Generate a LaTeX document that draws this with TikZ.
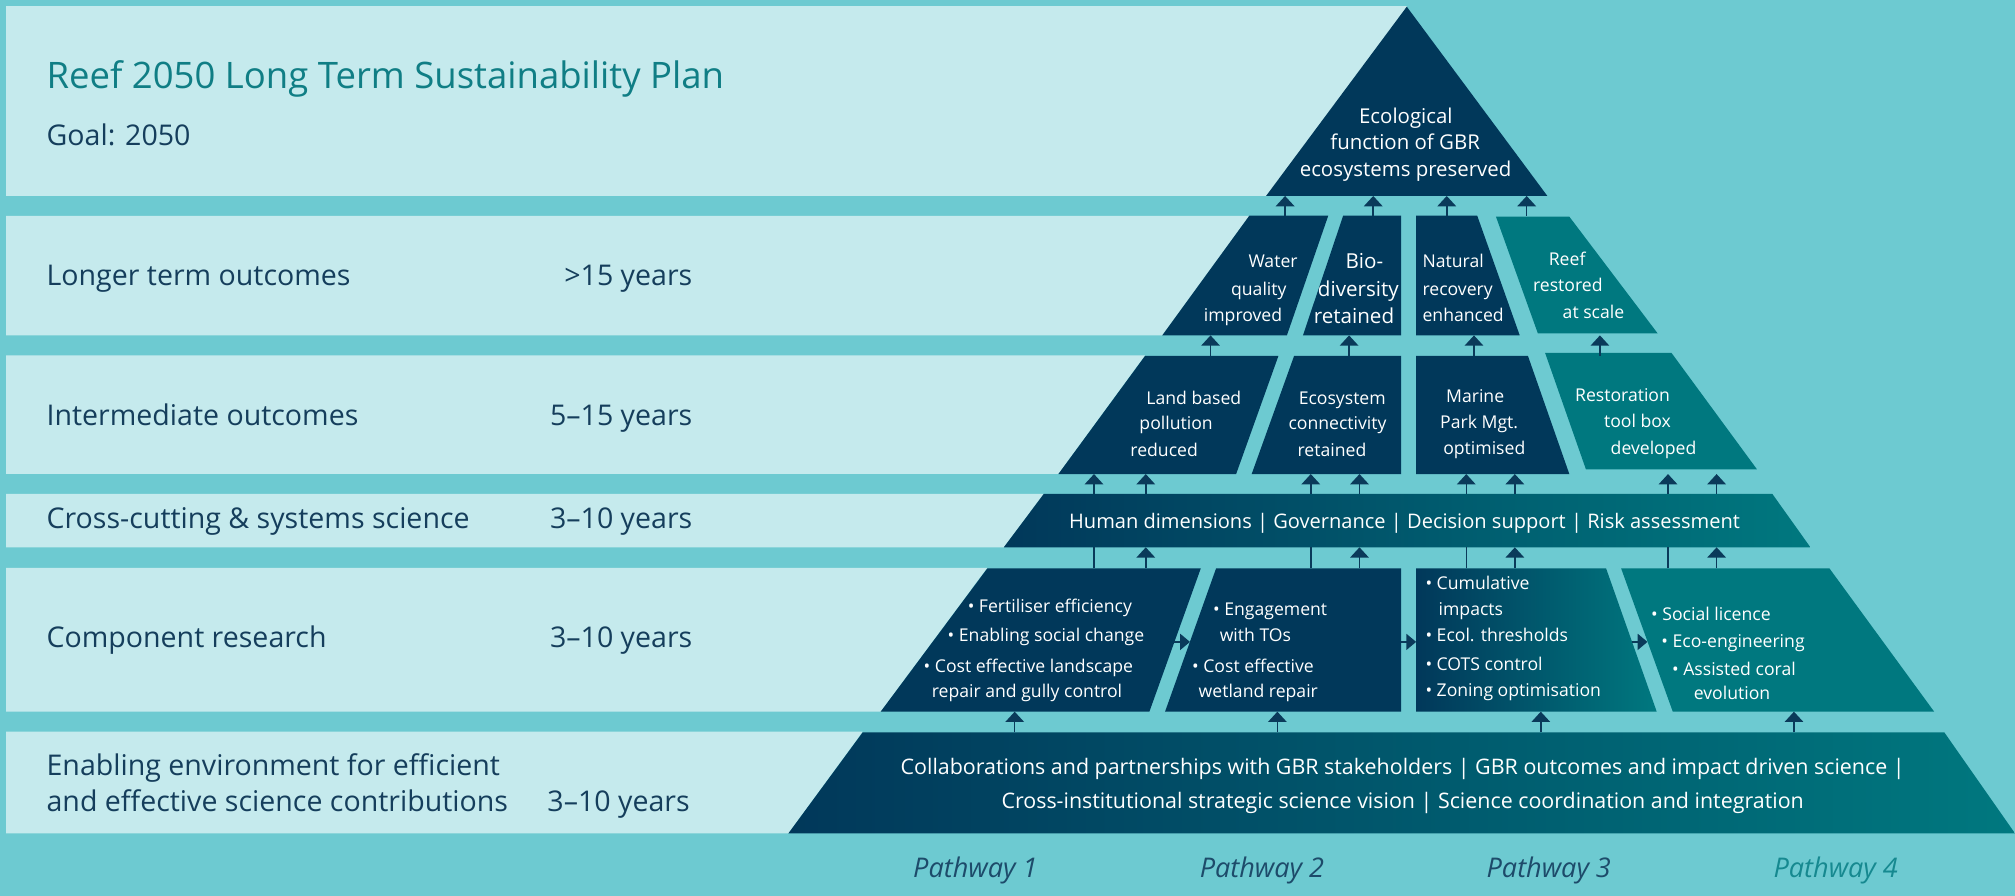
\documentclass[tikz,border=0pt]{standalone}
\usepackage{fontspec}
\setmainfont{Open Sans}
\usetikzlibrary{arrows.meta}
\definecolor{bgc}{HTML}{6DCAD1}
\definecolor{bandc}{HTML}{C5EAED}
\definecolor{navyc}{HTML}{01385A}
\definecolor{tealc}{HTML}{00787F}
\definecolor{titlec}{HTML}{107E85}
\definecolor{labc}{HTML}{153E5C}
\definecolor{arrc}{HTML}{0A3A5A}
\definecolor{pathc}{HTML}{1D4B6A}
\definecolor{pathfc}{HTML}{168990}
\newcommand\fTitle{\fontsize{20.2pt}{24pt}\selectfont}
\newcommand\fLab{\fontsize{15.8pt}{19pt}\selectfont}
\newcommand\fApex{\fontsize{11.3pt}{14pt}\selectfont}
\newcommand\fBox{\fontsize{9.75pt}{12pt}\selectfont}
\newcommand\fBio{\fontsize{11.4pt}{14pt}\selectfont}
\newcommand\fBand{\fontsize{11.1pt}{14pt}\selectfont}
\newcommand\fBandB{\fontsize{11.85pt}{14pt}\selectfont}
\newcommand\fPath{\fontsize{15pt}{18pt}\selectfont\itshape}
\tikzset{
  lbl/.style={anchor=base west, inner sep=0pt, text=labc, font=\fLab},
  yrs/.style={anchor=base east, inner sep=0pt, text=labc, font=\fLab},
  bw/.style={anchor=base west, inner sep=0pt, text=white, font=\fBox},
  be/.style={anchor=base east, inner sep=0pt, text=white, font=\fBox},
  bc/.style={anchor=base, inner sep=0pt, text=white, font=\fBox},
  arr/.style={draw=arrc, line width=0.85pt, -{Triangle[width=0.36cm,length=0.2cm]}},
  ln/.style={draw=arrc, line width=0.85pt},
  harr/.style={draw=arrc, line width=0.85pt, -{Triangle[width=0.31cm,length=0.19cm]}},
  pth/.style={anchor=base, inner sep=0pt, font=\fPath, text=pathc}
}
\begin{document}
\begin{tikzpicture}[x=0.025cm,y=-0.025cm]
\useasboundingbox (0,0) rectangle (1568,697);
\fill[bgc] (0,0) rectangle (1568,697);
% light bands
\fill[bandc] (4.8,4.4) -- (1094.7,4.4) -- (1094.7,152.5) -- (4.8,152.5) -- cycle;
\fill[bandc] (4.8,168) -- (972.2,168) -- (904.4,261) -- (4.8,261) -- cycle;
\fill[bandc] (4.8,276.6) -- (891,276.6) -- (823.6,368.7) -- (4.8,368.7) -- cycle;
\fill[bandc] (4.8,384.3) -- (812.2,384.3) -- (781.1,425.9) -- (4.8,425.9) -- cycle;
\fill[bandc] (4.8,441.8) -- (768.3,441.8) -- (685.3,553.7) -- (4.8,553.7) -- cycle;
\fill[bandc] (4.8,569.4) -- (671.3,569.4) -- (613.5,648.4) -- (4.8,648.4) -- cycle;
% apex
\fill[navyc] (1094.7,5.2) -- (1204.1,152.5) -- (985.2,152.5) -- cycle;
% row 2
\fill[navyc] (972.2,167.8) -- (1033.6,167.8) -- (1001.4,261) -- (904.4,261) -- cycle;
\fill[navyc] (1045.2,167.8) -- (1090.3,167.8) -- (1090.3,261) -- (1013.9,261) -- cycle;
\fill[navyc] (1101.9,167.8) -- (1149.5,167.8) -- (1182.6,261) -- (1101.9,261) -- cycle;
\fill[tealc] (1164.1,168.6) -- (1221.2,168.6) -- (1289.9,259.4) -- (1196.7,259.4) -- cycle;
% row 3
\fill[navyc] (891,277) -- (994.8,277) -- (961.9,368.9) -- (823.6,368.9) -- cycle;
\fill[navyc] (1007,277) -- (1090.3,277) -- (1090.3,368.9) -- (974,368.9) -- cycle;
\fill[navyc] (1102,277) -- (1189,277) -- (1221.2,368.9) -- (1102,368.9) -- cycle;
\fill[tealc] (1202.3,274.5) -- (1300.6,274.5) -- (1367.2,365.2) -- (1234.1,365.2) -- cycle;
% row 4
\shade[left color=navyc, right color=tealc] (812.2,384.4) -- (1379.2,384.4) -- (1408.8,425.9) -- (781.1,425.9) -- cycle;
% row 5
\fill[navyc] (768.3,442.3) -- (934.4,442.3) -- (894.4,553.8) -- (685.3,553.8) -- cycle;
\fill[navyc] (946.3,442.3) -- (1090.3,442.3) -- (1090.3,553.8) -- (906.6,553.8) -- cycle;
\shade[left color=navyc, middle color=navyc!75!tealc, right color=tealc] (1102,442.3) -- (1249.8,442.3) -- (1289.2,553.8) -- (1102,553.8) -- cycle;
\fill[tealc] (1261.5,442.3) -- (1423.6,442.3) -- (1505.1,553.8) -- (1301.7,553.8) -- cycle;
% row 6
\shade[left color=navyc, right color=tealc] (671.3,569.9) -- (1513,569.9) -- (1568,648.5) -- (613.5,648.5) -- cycle;

% arrows row2 -> apex
\foreach \x [count=\i] in {1000,1068.6,1125.8,1188}{
  \coordinate (tA\i) at (\x,152.5);
  \coordinate (sA\i) at (\x,167.8);
  \draw[arr] (sA\i) -- (tA\i);
}
% row3 -> row2
\foreach \x [count=\i] in {942,1049.8,1147,1245}{
  \coordinate (tB\i) at (\x,261);
  \coordinate (sB\i) at (\x,277);
  \draw[arr] (sB\i) -- (tB\i);
}
% row4 -> row3
\foreach \x [count=\i] in {851.3,891.6,1020,1057.9,1141,1178.8,1298,1335.8}{
  \coordinate (tC\i) at (\x,368.9);
  \coordinate (sC\i) at (\x,384.4);
  \draw[arr] (sC\i) -- (tC\i);
}
% row5 -> row4 plain
\foreach \x [count=\i] in {851.3,1020,1141,1298}{
  \coordinate (tD\i) at (\x,425.9);
  \coordinate (sD\i) at (\x,442.3);
  \draw[ln] (sD\i) -- (tD\i);
}
% row5 -> row4 arrows
\foreach \x [count=\i] in {891.6,1057.9,1178.8,1335.8}{
  \coordinate (tE\i) at (\x,425.9);
  \coordinate (sE\i) at (\x,442.3);
  \draw[arr] (sE\i) -- (tE\i);
}
% row6 -> row5
\foreach \x [count=\i] in {789.6,994,1199,1396}{
  \coordinate (tF\i) at (\x,553.8);
  \coordinate (sF\i) at (\x,569.9);
  \draw[arr] (sF\i) -- (tF\i);
}
% horizontal arrows in row 5
\coordinate (h1s) at (913.9,499.5); \coordinate (h1t) at (926,499.5);
\coordinate (h2s) at (1090.3,499.5); \coordinate (h2t) at (1102,499.5);
\coordinate (h3s) at (1270,499.5); \coordinate (h3t) at (1282,499.5);
\draw[harr] (h1s) -- (h1t);
\draw[harr] (h2s) -- (h2t);
\draw[harr] (h3s) -- (h3t);

% left texts
\node[lbl, text=titlec, font=\fTitle] (title) at (36,68.9) {Reef 2050 Long Term Sustainability Plan};
\node[lbl] (goal) at (36,113.3) {Goal: 2050};
\node[lbl] (l2) at (36,222.2) {Longer term outcomes};
\node[yrs] (y2) at (539,222.2) {>15 years};
\node[lbl] (l3) at (36,331) {Intermediate outcomes};
\node[yrs] (y3) at (539,331) {5–15 years};
\node[lbl] (l4) at (36,411.2) {Cross-cutting \& systems science};
\node[yrs] (y4) at (539,411.2) {3–10 years};
\node[lbl] (l5) at (36,503.6) {Component research};
\node[yrs] (y5) at (539,503.6) {3–10 years};
\node[lbl] (l6a) at (36,603.6) {Enabling environment for efficient};
\node[lbl] (l6b) at (36,631.1) {and effective science contributions};
\node[yrs] (y6) at (537,631.1) {3–10 years};

% apex text
\node[bc, font=\fApex] (ap1) at (1094,96) {Ecological};
\node[bc, font=\fApex] (ap2) at (1093.4,116.7) {function of GBR};
\node[bc, font=\fApex] (ap3) at (1093.8,137) {ecosystems preserved};

% row 2 text
\node[be] (wq1) at (1010,208.3) {Water};
\node[be] (wq2) at (1001.4,229.6) {quality};
\node[be] (wq3) at (998,249.8) {improved};
\node[bc, font=\fBio] (bd1) at (1061.7,208.8) {Bio-};
\node[bc, font=\fBio] (bd2) at (1057,230.9) {diversity};
\node[bc, font=\fBio] (bd3) at (1053.6,251.6) {retained};
\node[bw] (nr1) at (1106.7,208.3) {Natural};
\node[bw] (nr2) at (1106.7,229.6) {recovery};
\node[bw] (nr3) at (1106.7,249.8) {enhanced};
\node[bc] (rr1) at (1219.5,206.8) {Reef};
\node[bc] (rr2) at (1220,227) {restored};
\node[bc] (rr3) at (1240,247.7) {at scale};

% row 3 text
\node[bw] (lb1) at (891.8,314.4) {Land based};
\node[bw] (lb2) at (886.4,334.6) {pollution};
\node[bw] (lb3) at (879.4,355.4) {reduced};
\node[bc] (ec1) at (1044.5,314.4) {Ecosystem};
\node[bc] (ec2) at (1040.8,334.6) {connectivity};
\node[bc] (ec3) at (1036.5,355.4) {retained};
\node[bc] (mp1) at (1147.9,313) {Marine};
\node[bc] (mp2) at (1151,333.3) {Park Mgt.};
\node[bc] (mp3) at (1155,353.3) {optimised};
\node[bc] (rt1) at (1262.6,312.6) {Restoration};
\node[bc] (rt2) at (1274.2,332.6) {tool box};
\node[bc] (rt3) at (1286.7,353.3) {developed};

% row 4 text
\node[bc, font=\fBand] (cc) at (1093,411.2) {Human dimensions | Governance | Decision support | Risk assessment};

% row 5 text
\node[bw] (c11) at (752.8,476.5) {• Fertiliser efficiency};
\node[bw] (c12) at (737.2,499.4) {• Enabling social change};
\node[bw] (c13) at (718.5,523.2) {• Cost effective landscape};
\node[bw] (c14) at (724.8,542.7) {repair and gully control};
\node[bw] (c21) at (943.7,478.6) {• Engagement};
\node[bw] (c22) at (948.9,499.4) {with TOs};
\node[bw] (c23) at (927.4,523.2) {• Cost effective};
\node[bw] (c24) at (932.5,542.7) {wetland repair};
\node[bw] (c31) at (1109,459.1) {• Cumulative};
\node[bw] (c32) at (1119.2,478.6) {impacts};
\node[bw] (c33) at (1109,499.4) {• Ecol. thresholds};
\node[bw] (c34) at (1109,521.4) {• COTS control};
\node[bw] (c35) at (1109,542) {• Zoning optimisation};
\node[bw] (c41) at (1284.6,482.5) {• Social licence};
\node[bw] (c42) at (1292.6,503.8) {• Eco-engineering};
\node[bw] (c43) at (1300.9,525.3) {• Assisted coral};
\node[bw] (c44) at (1317.8,544.2) {evolution};

% row 6 text
\node[bc, font=\fBandB] (en1) at (1091.5,602.6) {Collaborations and partnerships with GBR stakeholders | GBR outcomes and impact driven science |};
\node[bc, font=\fBandB] (en2) at (1091.5,629) {Cross-institutional strategic science vision | Science coordination and integration};

% pathways
\node[pth] (p1) at (759,683) {Pathway 1};
\node[pth] (p2) at (982,683) {Pathway 2};
\node[pth] (p3) at (1205.2,683) {Pathway 3};
\node[pth, text=pathfc] (p4) at (1428.5,683) {Pathway 4};
\end{tikzpicture}
\end{document}
